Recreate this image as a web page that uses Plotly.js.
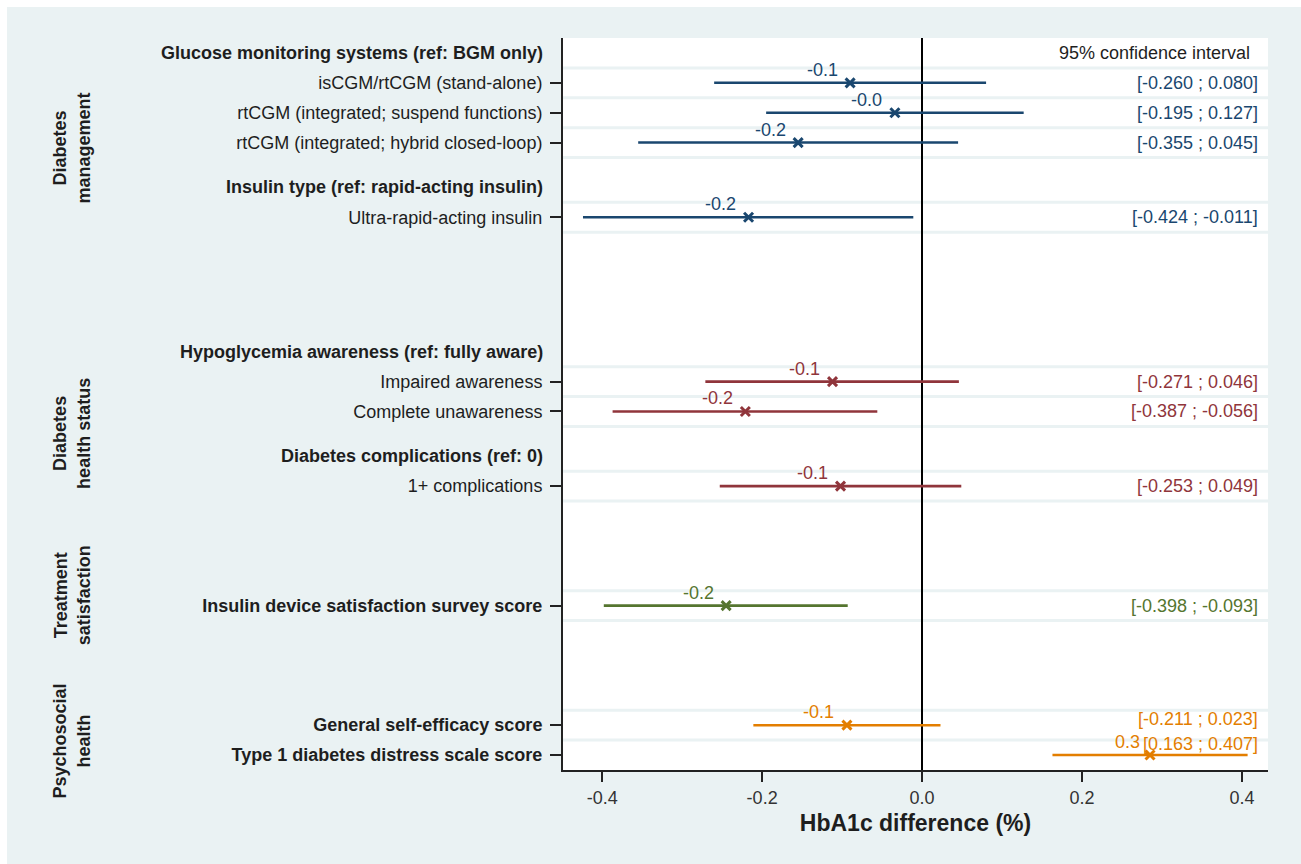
<!DOCTYPE html>
<html>
<head>
<meta charset="utf-8">
<script src="https://cdn.plot.ly/plotly-3.0.1.min.js"></script>
<style>
  html, body { margin: 0; padding: 0; background: #ffffff; }
  #chart { position: absolute; left: 7px; top: 7px; width: 1294px; height: 857px; }
</style>
</head>
<body>
<div id="chart"></div>
<script>
// ---------------- DATA ----------------
const rowLabels = [
  "isCGM/rtCGM (stand-alone)",
  "rtCGM (integrated; suspend functions)",
  "rtCGM (integrated; hybrid closed-loop)",
  "Ultra-rapid-acting insulin",
  "Impaired awareness",
  "Complete unawareness",
  "1+ complications",
  "Insulin device satisfaction survey score",
  "General self-efficacy score",
  "Type 1 diabetes distress scale score"
];
const rowBold = [false, false, false, false, false, false, false, true, true, true];
const estimates = [-0.090, -0.034, -0.155, -0.217, -0.112, -0.221, -0.102, -0.245, -0.094, 0.285];
const ciLow  = [-0.260, -0.195, -0.355, -0.424, -0.271, -0.387, -0.253, -0.398, -0.211, 0.163];
const ciHigh = [0.080, 0.127, 0.045, -0.011, 0.046, -0.056, 0.049, -0.093, 0.023, 0.407];
const estLabels = ["-0.1", "-0.0", "-0.2", "-0.2", "-0.1", "-0.2", "-0.1", "-0.2", "-0.1", "0.3"];
const ciLabels = ["[-0.260 ; 0.080]", "[-0.195 ; 0.127]", "[-0.355 ; 0.045]", "[-0.424 ; -0.011]",
                  "[-0.271 ; 0.046]", "[-0.387 ; -0.056]", "[-0.253 ; 0.049]", "[-0.398 ; -0.093]",
                  "[-0.211 ; 0.023]", "[0.163 ; 0.407]"];
const rowGroup = [0, 0, 0, 0, 1, 1, 1, 2, 3, 3];
const groupNames = ["Diabetes<br>management", "Diabetes<br>health status", "Treatment<br>satisfaction", "Psychosocial<br>health"];
const headers = ["Glucose monitoring systems (ref: BGM only)", "Insulin type (ref: rapid-acting insulin)",
                 "Hypoglycemia awareness (ref: fully aware)", "Diabetes complications (ref: 0)"];
const ciHeader = "95% confidence interval";
const xTickVals = [-0.4, -0.2, 0.0, 0.2, 0.4];
const xTickText = ["-0.4", "-0.2", "0.0", "0.2", "0.4"];
const xTitle = "HbA1c difference (%)";

// ---------------- LAYOUT (positions / styles) ----------------
const rowPos = [1, 2, 3, 5.5, 11, 12, 14.5, 18.5, 22.5, 23.5];
const headerPos = [0, 4.5, 10, 13.5];
const groupPos = [3.2, 12.75, 18.15, 23.05];
const groupColors = ["#1a476f", "#90353b", "#55752f", "#e37e00"];
const ciYShift = [0, 0, 0, 0, 0, 0, 0, 0, 6, 11];
const FONT = "Liberation Sans, Arial, sans-serif";
const TXT = "#1e1e1e";
const BG = "#eaf2f3";
const FS = 18;

const traces = [];
for (let g = 0; g < groupColors.length; g++) {
  const idx = rowGroup.map((v, i) => v === g ? i : -1).filter(i => i >= 0);
  traces.push({
    type: "scatter",
    mode: "markers",
    x: idx.map(i => estimates[i]),
    y: idx.map(i => rowPos[i]),
    marker: { symbol: "x-thin", size: 9, color: groupColors[g], line: { color: groupColors[g], width: 3 } },
    error_x: {
      type: "data", symmetric: false,
      array: idx.map(i => ciHigh[i] - estimates[i]),
      arrayminus: idx.map(i => estimates[i] - ciLow[i]),
      color: groupColors[g], thickness: 2.6, width: 0
    },
    hoverinfo: "skip",
    showlegend: false
  });
}

const annotations = [];
rowLabels.forEach((_, i) => {
  annotations.push({
    x: estimates[i], y: rowPos[i], xref: "x", yref: "y",
    text: estLabels[i], showarrow: false, xanchor: "center", yanchor: "middle",
    xshift: estLabels[i].length > 3 ? -28 : -23, yshift: 13,
    font: { family: FONT, size: FS, color: groupColors[rowGroup[i]] }
  });
  annotations.push({
    x: 1, y: rowPos[i], xref: "paper", yref: "y",
    text: ciLabels[i], showarrow: false, xanchor: "right", yanchor: "middle",
    xshift: -8, yshift: ciYShift[i],
    font: { family: FONT, size: FS, color: groupColors[rowGroup[i]] }
  });
});
headers.forEach((h, k) => {
  annotations.push({
    x: 0, y: headerPos[k], xref: "paper", yref: "y",
    text: "<b>" + h + "</b>", showarrow: false, xanchor: "right", yanchor: "middle",
    xshift: -18,
    font: { family: FONT, size: FS, color: TXT }
  });
});
annotations.push({
  x: 1, y: 0, xref: "paper", yref: "y",
  text: ciHeader, showarrow: false, xanchor: "right", yanchor: "middle",
  xshift: -16,
  font: { family: FONT, size: FS, color: TXT }
});
groupNames.forEach((gname, g) => {
  annotations.push({
    x: 0, y: groupPos[g], xref: "paper", yref: "y",
    text: "<b>" + gname + "</b>", showarrow: false, textangle: -90,
    xanchor: "center", yanchor: "middle", xshift: -491,
    font: { family: FONT, size: FS, color: TXT }
  });
});

const gridSet = new Set();
rowPos.forEach(p => { gridSet.add(p - 0.5); gridSet.add(p + 0.5); });
const shapes = [];
gridSet.forEach(v => {
  if (v >= 24) return;
  shapes.push({
    type: "line", xref: "paper", yref: "y", x0: 0, x1: 1, y0: v, y1: v,
    line: { color: BG, width: 3 }, layer: "below"
  });
});

const layout = {
  width: 1294, height: 857,
  margin: { l: 556, r: 33, t: 30.5, b: 94 },
  paper_bgcolor: BG,
  plot_bgcolor: "#ffffff",
  font: { family: FONT, size: FS, color: TXT },
  xaxis: {
    range: [-0.449, 0.4325],
    tickvals: xTickVals, ticktext: xTickText,
    ticks: "outside", ticklen: 10, tickwidth: 2, tickcolor: "#222",
    showline: true, linecolor: "#222", linewidth: 2,
    showgrid: false,
    zeroline: true, zerolinecolor: "#000", zerolinewidth: 2,
    tickfont: { family: FONT, size: FS, color: "#333" },
    title: { text: "<b>" + xTitle + "</b>", font: { family: FONT, size: 23, color: TXT }, standoff: 8 }
  },
  yaxis: {
    range: [24, -0.5],
    tickvals: rowPos,
    ticktext: rowLabels.map((t, i) => rowBold[i] ? "<b>" + t + "</b>" : t),
    ticks: "outside", ticklen: 11, tickwidth: 2, tickcolor: "#222",
    ticklabelstandoff: 4,
    showline: true, linecolor: "#222", linewidth: 2,
    showgrid: false, zeroline: false,
    tickfont: { family: FONT, size: FS, color: TXT }
  },
  shapes: shapes,
  annotations: annotations
};

Plotly.newPlot("chart", traces, layout, { displayModeBar: false, staticPlot: true });
</script>
</body>
</html>
